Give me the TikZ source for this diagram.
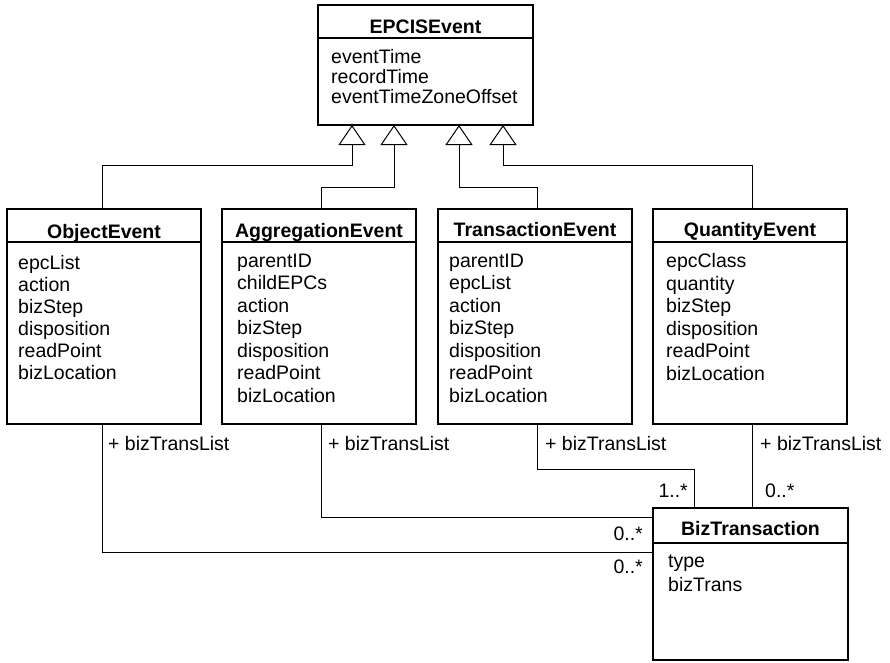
\documentclass[tikz,border=0pt]{standalone}
\usepackage{fontspec}
\setmainfont{Liberation Sans}
\usetikzlibrary{arrows.meta}
\begin{document}
\begin{tikzpicture}[x=1pt,y=-1pt,
  cls/.style={draw, line width=1.7pt, inner sep=0pt, fill=white},
  sep/.style={line width=1.7pt},
  ctitle/.style={font=\fontsize{19.5}{22}\selectfont\bfseries, inner sep=0pt, anchor=base},
  attrs/.style={font=\fontsize{19.5}{#1}\selectfont, align=left, anchor=north west, inner sep=0pt},
  inh/.style={line width=1pt, -{Triangle[open,length=20pt,width=27pt,fill=white]}},
  assoc/.style={line width=1pt},
  lbl/.style={font=\fontsize{19.5}{22}\selectfont, inner sep=0pt}
]
\useasboundingbox (0,0) rectangle (890,662);

% EPCISEvent
\node[cls, minimum width=215pt, minimum height=120pt] (epcis) at (425.5,65) {};
\draw[sep] ([yshift=-34pt]epcis.north west) -- ([yshift=-34pt]epcis.north east);
\node[ctitle] (epcist) at (425.5,33) {EPCISEvent};
\node[attrs=20pt] (epcisa) at (331,49.5) {eventTime\\recordTime\\eventTimeZoneOffset};

% ObjectEvent
\node[cls, minimum width=194pt, minimum height=215pt] (obj) at (104,316.5) {};
\draw[sep] ([yshift=-34pt]obj.north west) -- ([yshift=-34pt]obj.north east);
\node[ctitle] (objt) at (104,238) {ObjectEvent};
\node[attrs=22pt] (obja) at (18,255.5) {epcList\\action\\bizStep\\disposition\\readPoint\\bizLocation};

% AggregationEvent
\node[cls, minimum width=194pt, minimum height=215pt] (agg) at (319,316.5) {};
\draw[sep] ([yshift=-34pt]agg.north west) -- ([yshift=-34pt]agg.north east);
\node[ctitle] (aggt) at (319,237) {AggregationEvent};
\node[attrs=22.5pt] (agga) at (237,253.5) {parentID\\childEPCs\\action\\bizStep\\disposition\\readPoint\\bizLocation};

% TransactionEvent
\node[cls, minimum width=194pt, minimum height=215pt] (trans) at (535,316.5) {};
\draw[sep] ([yshift=-34pt]trans.north west) -- ([yshift=-34pt]trans.north east);
\node[ctitle] (transt) at (535,236) {TransactionEvent};
\node[attrs=22.5pt] (transa) at (449,253.5) {parentID\\epcList\\action\\bizStep\\disposition\\readPoint\\bizLocation};

% QuantityEvent
\node[cls, minimum width=194pt, minimum height=215pt] (qty) at (750,316.5) {};
\draw[sep] ([yshift=-34pt]qty.north west) -- ([yshift=-34pt]qty.north east);
\node[ctitle] (qtyt) at (750,236) {QuantityEvent};
\node[attrs=22.5pt] (qtya) at (666,253.5) {epcClass\\quantity\\bizStep\\disposition\\readPoint\\bizLocation};

% BizTransaction
\node[cls, minimum width=195pt, minimum height=152pt] (biz) at (750.5,584) {};
\draw[sep] ([yshift=-36pt]biz.north west) -- ([yshift=-36pt]biz.north east);
\node[ctitle] (bizt) at (750.5,535) {BizTransaction};
\node[attrs=24pt] (biza) at (668,555) {type\\bizTrans};

% generalisation anchors on EPCISEvent
\coordinate (e1) at (352,125);
\coordinate (e2) at (394,125);
\coordinate (e3) at (459,125);
\coordinate (e4) at (503,125);
\draw[inh] ([xshift=-2pt]obj.north) -- ++(0,-43) -| (e1);
\draw[inh] ([xshift=2pt]agg.north) -- ++(0,-21) -| (e2);
\draw[inh] ([xshift=2pt]trans.north) -- ++(0,-21) -| (e3);
\draw[inh] ([xshift=2pt]qty.north) -- ++(0,-43) -| (e4);

% association anchors on BizTransaction
\coordinate (b1) at (653,517);
\coordinate (b2) at (653,552);
\coordinate (b3) at (694,508);
\coordinate (b4) at (752,508);
\draw[assoc] ([xshift=-2pt]obj.south) |- (b2);
\draw[assoc] ([xshift=2pt]agg.south) |- (b1);
\draw[assoc] ([xshift=2pt]trans.south) -- ++(0,45) -| (b3);
\draw[assoc] ([xshift=2pt]qty.south) -- (b4);

% labels
\node[lbl, anchor=base west] (l1) at (108,450) {+ bizTransList};
\node[lbl, anchor=base west] (l2) at (328,450) {+ bizTransList};
\node[lbl, anchor=base west] (l3) at (545,450) {+ bizTransList};
\node[lbl, anchor=base west] (l4) at (760,450) {+ bizTransList};
\node[lbl, anchor=base east] (m1) at (688,497) {1..*};
\node[lbl, anchor=base west] (m2) at (765,497) {0..*};
\node[lbl, anchor=base east] (m3) at (643,540) {0..*};
\node[lbl, anchor=base east] (m4) at (643,573) {0..*};
\end{tikzpicture}
\end{document}
